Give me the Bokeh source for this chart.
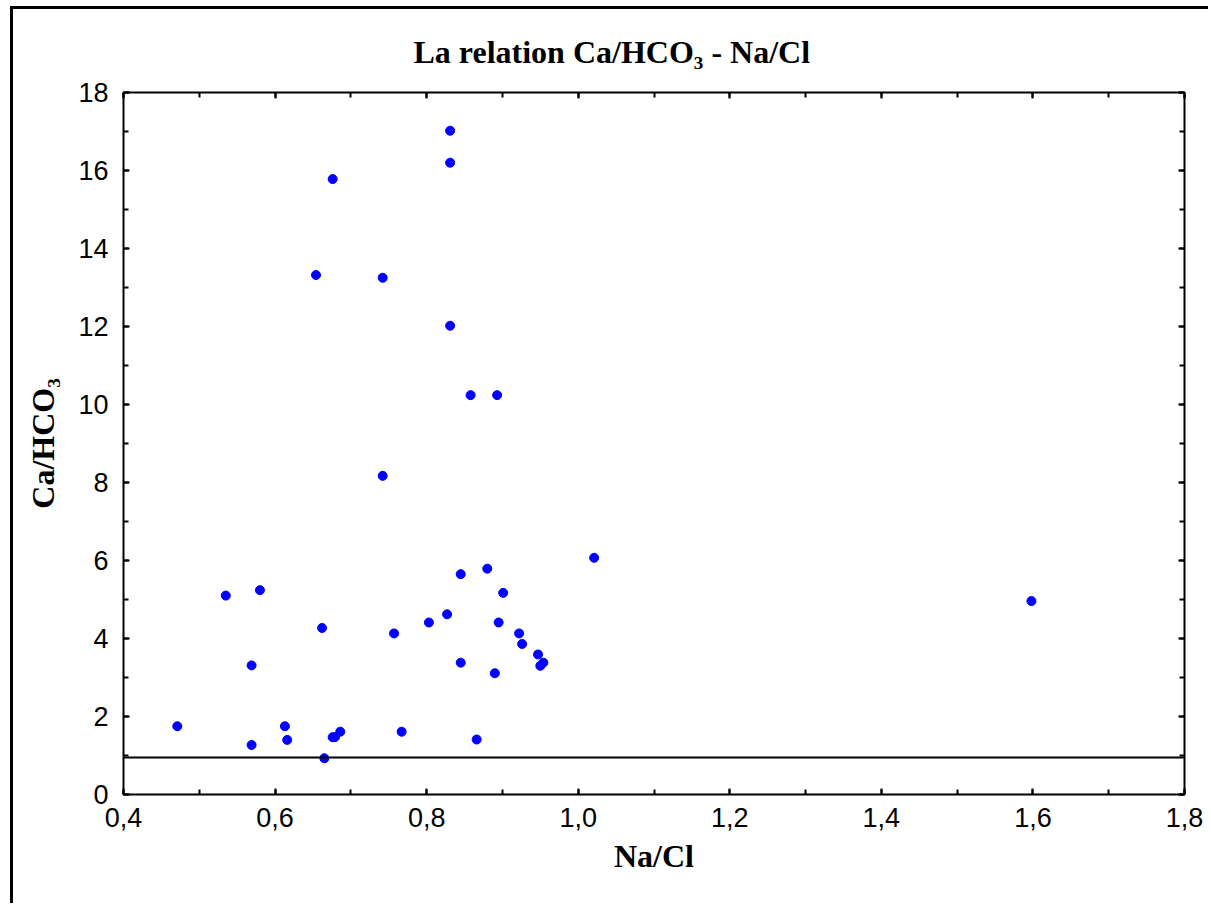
from bokeh.plotting import figure
from bokeh.models import (LinearAxis, SingleIntervalTicker, CustomJSTickFormatter,
                          Span, Range1d, ColumnDataSource)
from bokeh.embed import file_html
from bokeh.resources import INLINE

# Data
na_cl = [0.471, 0.535, 0.580, 0.569, 0.569, 0.613, 0.616, 0.654, 0.662, 0.665,
         0.676, 0.676, 0.679, 0.686, 0.742, 0.742, 0.757, 0.767, 0.803, 0.827,
         0.831, 0.831, 0.831, 0.845, 0.845, 0.858, 0.866, 0.880, 0.890, 0.893,
         0.895, 0.901, 0.922, 0.926, 0.947, 0.950, 0.954, 1.021, 1.598]
ca_hco3 = [1.75, 5.10, 5.24, 3.31, 1.27, 1.75, 1.40, 13.32, 4.27, 0.93,
           15.78, 1.47, 1.47, 1.61, 13.25, 8.17, 4.13, 1.61, 4.41, 4.62,
           17.02, 16.20, 12.02, 5.65, 3.38, 10.24, 1.41, 5.79, 3.11, 10.24,
           4.41, 5.17, 4.13, 3.86, 3.59, 3.30, 3.38, 6.07, 4.96]
ref_line_y = 0.95
x_min, x_max = 0.4, 1.8
y_min, y_max = 0, 18

src = ColumnDataSource(dict(x=na_cl, y=ca_hco3))

p = figure(width=1198, height=897, output_backend="svg", toolbar_location=None,
           x_range=Range1d(x_min, x_max), y_range=Range1d(y_min, y_max),
           x_axis_location=None, y_axis_location=None,
           min_border_left=110, min_border_right=27, min_border_top=82, min_border_bottom=112,
           margin=(6, 0, 0, 10))
p.styles = {"border-top": "3px solid black", "border-left": "3px solid black"}
p.grid.visible = False
p.outline_line_color = None
p.background_fill_color = "white"
p.border_fill_color = "white"

fmt_x = CustomJSTickFormatter(code="return tick.toFixed(1).replace('.', ',');")

def make_axis(kind, labels, label_text=None):
    if kind == "x":
        ticker = SingleIntervalTicker(interval=0.2, num_minor_ticks=2)
    else:
        ticker = SingleIntervalTicker(interval=2, num_minor_ticks=2)
    ax = LinearAxis(ticker=ticker)
    if kind == "x":
        ax.formatter = fmt_x
    ax.axis_line_width = 2
    ax.axis_line_color = "black"
    ax.major_tick_in = 6
    ax.major_tick_out = 0
    ax.minor_tick_in = 5
    ax.minor_tick_out = 0
    ax.major_tick_line_width = 2
    ax.minor_tick_line_width = 2
    ax.major_tick_line_color = "black"
    ax.minor_tick_line_color = "black"
    if labels:
        ax.major_label_text_font = "Liberation Sans"
        ax.major_label_text_font_size = "27px"
        ax.major_label_text_color = "black"
        ax.major_label_standoff = 13 if kind == "x" else 15
        ax.axis_label = label_text
        ax.axis_label_text_font = "Liberation Serif"
        ax.axis_label_text_font_style = "bold"
        ax.axis_label_text_font_size = "32px"
        ax.axis_label_text_color = "black"
        ax.axis_label_standoff = 8 if kind == "x" else 14
    else:
        ax.formatter = CustomJSTickFormatter(code="return '';")
        ax.major_label_standoff = 0
    return ax

p.add_layout(make_axis("x", True, "Na/Cl"), "below")
p.add_layout(make_axis("y", True, "Ca/HCO\u2083"), "left")
p.add_layout(make_axis("x", False), "above")
p.add_layout(make_axis("y", False), "right")

p.add_layout(Span(location=ref_line_y, dimension="width", line_color="black", line_width=2))

p.scatter("x", "y", source=src, size=9, color="#0000FF", line_color="#0000FF")

p.title.text = "La relation Ca/HCO\u2083 - Na/Cl"
p.title.text_font = "Liberation Serif"
p.title.text_font_style = "bold"
p.title.text_font_size = "32px"
p.title.text_color = "black"
p.title.align = "left"
p.title.offset = 290
p.title.standoff = 45

open("out.html", "w").write(file_html(p, INLINE))
